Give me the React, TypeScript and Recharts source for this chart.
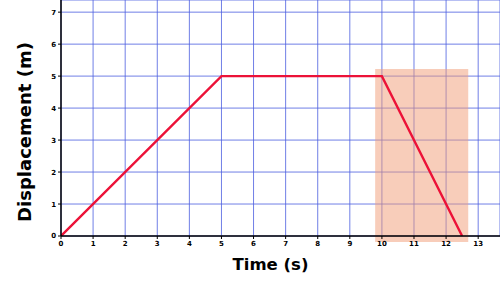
import { CartesianGrid, Line, LineChart, ReferenceArea, XAxis, YAxis } from "recharts";

const times = [0, 5, 10, 12.5];
const displacement = [0, 5, 5, 0];
const xTicks = [0, 1, 2, 3, 4, 5, 6, 7, 8, 9, 10, 11, 12, 13];
const yTicks = [0, 1, 2, 3, 4, 5, 6, 7];
const highlight = { x1: 9.79, x2: 12.69, y1: -0.19, y2: 5.22 };

const data = times.map((t, i) => ({ t, d: displacement[i] }));

const tickStyle = { fill: "#000", fontSize: 7, fontWeight: 700, fontFamily: "DejaVu Sans" };
const yTitleStyle = { fill: "#000", fontSize: 18, fontWeight: 700, fontFamily: "DejaVu Sans" };
const xTitleStyle = { ...yTitleStyle, fontSize: 16.5 };

export default function App() {
  return (
    <div style={{ position: "absolute", left: 0, top: 0, background: "#fff" }}>
      <LineChart width={500} height={281} data={data} margin={{ top: 0, right: 0, left: 0, bottom: 0 }}>
        <CartesianGrid stroke="#4c5fe0" strokeOpacity={0.8} />
        <XAxis
          dataKey="t"
          type="number"
          domain={[0, 13.68]}
          ticks={xTicks}
          allowDataOverflow
          height={45}
          tick={tickStyle}
          tickSize={3}
          axisLine={{ stroke: "#000", strokeWidth: 1.5 }}
          tickLine={{ stroke: "#000" }}
          label={{ value: "Time (s)", position: "insideBottom", offset: 11, dx: -10, style: xTitleStyle }}
        />
        <YAxis
          type="number"
          domain={[0, 7.38]}
          ticks={yTicks}
          allowDataOverflow
          width={61}
          tick={tickStyle}
          tickSize={3}
          axisLine={{ stroke: "#000", strokeWidth: 1.5 }}
          tickLine={{ stroke: "#000" }}
          label={{ value: "Displacement (m)", angle: -90, position: "center", dx: -6, dy: 14, style: yTitleStyle }}
        />
        <ReferenceArea
          x1={highlight.x1}
          x2={highlight.x2}
          y1={highlight.y1}
          y2={highlight.y2}
          fill="#f29c76"
          fillOpacity={0.5}
          stroke="none"
          ifOverflow="visible"
        />
        <Line
          dataKey="d"
          type="linear"
          stroke="#ec1238"
          strokeWidth={2.4}
          dot={false}
          isAnimationActive={false}
        />
      </LineChart>
    </div>
  );
}
